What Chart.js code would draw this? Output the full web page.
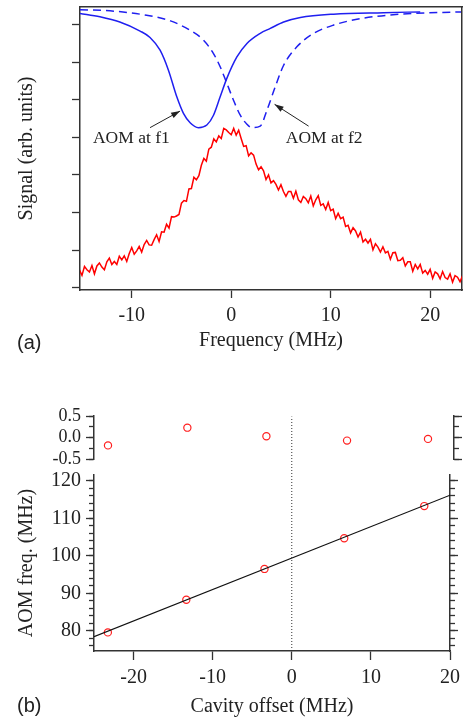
<!DOCTYPE html>
<html>
<head>
<meta charset="utf-8">
<script src="https://cdn.jsdelivr.net/npm/chart.js@4.4.1/dist/chart.umd.min.js"></script>
<style>
  body { margin: 0; background: #fff; }
  #wrap { position: relative; width: 466px; height: 719px; background: #fff; }
  canvas { position: absolute; left: 0; }
  .tag { position: absolute; font: 20px "Liberation Sans", Arial, sans-serif; line-height: 24px; color: #222; }
</style>
</head>
<body>
<div id="wrap">
  <canvas id="chartA" width="466" height="360" style="top:0"></canvas>
  <canvas id="chartRes" width="466" height="95" style="top:380px"></canvas>
  <canvas id="chartB" width="466" height="339" style="top:380px"></canvas>
  <div class="tag" style="left:17px;top:330px">(a)</div>
  <div class="tag" style="left:17px;top:693px">(b)</div>
</div>
<script>
// panel (a): cavity transmission signal (red) and the two AOM lines (blue)
const bandFreq = [-15.25,-15,-14.75,-14.5,-14.25,-14,-13.75,-13.5,-13.25,-13,-12.75,-12.5,-12.25,-12,-11.75,-11.5,-11.25,-11,-10.75,-10.5,-10.25,-10,
  -9.75,-9.5,-9.25,-9,-8.75,-8.5,-8.25,-8,-7.75,-7.5,-7.25,-7,-6.75,-6.5,-6.25,-6,-5.75,-5.5,-5.25,-5,-4.75,-4.5,-4.25,-4,-3.75,-3.5,-3.25,-3,
  -2.75,-2.5,-2.25,-2,-1.75,-1.5,-1.25,-1,-0.75,-0.5,-0.25,0,0.25,0.5,0.75,1,1.25,1.5,1.75,2,2.25,2.5,2.75,3,3.25,3.5,3.75,4,4.25,4.5,4.75,5,
  5.25,5.5,5.75,6,6.25,6.5,6.75,7,7.25,7.5,7.75,8,8.25,8.5,8.75,9,9.25,9.5,9.75,10,10.25,10.5,10.75,11,11.25,11.5,11.75,12,12.25,12.5,12.75,13,
  13.25,13.5,13.75,14,14.25,14.5,14.75,15,15.25,15.5,15.75,16,16.25,16.5,16.75,17,17.25,17.5,17.75,18,18.25,18.5,18.75,19,19.25,19.5,19.75,20,
  20.25,20.5,20.75,21,21.25,21.5,21.75,22,22.25,22.5,22.75,23,23.25]
const bandSignal = [0.47,0.33,0.57,0.48,0.42,0.59,0.37,0.58,0.66,0.55,0.48,0.69,0.79,0.62,0.70,0.62,0.84,0.74,0.85,0.70,0.91,1.07,
  0.89,0.98,1.10,0.95,1.15,1.26,1.14,1.13,1.28,1.41,1.23,1.49,1.48,1.69,1.59,1.89,1.88,1.91,1.95,2.25,2.32,2.30,2.63,2.64,2.94,2.87,2.98,3.26,
  3.44,3.37,3.69,3.74,3.96,3.88,4.04,3.97,4.24,4.20,4.13,4.07,4.24,4.06,4.19,3.97,3.76,3.78,3.51,3.59,3.53,3.29,3.14,3.22,3.11,2.88,3.00,2.79,2.85,2.75,2.60,2.74,
  2.56,2.43,2.56,2.56,2.38,2.57,2.34,2.27,2.43,2.37,2.26,2.44,2.18,2.34,2.45,2.19,2.23,2.08,2.27,2.05,2.09,1.84,1.98,1.84,1.88,1.63,1.66,1.46,1.60,1.51,1.35,1.48,
  1.22,1.29,1.19,1.29,1.01,1.17,1.08,0.95,1.09,0.93,0.97,0.76,0.93,0.94,0.72,0.73,0.80,0.58,0.69,0.69,0.44,0.62,0.50,0.62,0.39,0.46,0.36,0.49,
  0.25,0.42,0.37,0.24,0.43,0.27,0.23,0.37,0.15,0.32,0.28,0.16,0.32]

const f1Freq = [-15.2,-13.2,-11.2,-9.16,-8.16,-7.15,-6.31,-5.47,-4.8,-4.13,-3.29,-2.45,-1.78,-1.11,-0.44,0.57,1.58,2.92,3.93,5.27,6.95,10.3,15.3,19.0]
const f1Signal = [7.30,7.21,7.07,6.83,6.66,6.32,5.79,5.08,4.64,4.39,4.26,4.33,4.59,5.08,5.57,6.14,6.50,6.77,6.90,7.07,7.19,7.28,7.32,7.34]
const f2Freq = [-15.2,-11.8,-8.5,-6.1,-4.13,-2.79,-1.78,-1.11,-0.44,0.23,0.91,1.58,2.08,2.92,3.6,4.43,5.27,6.6,8.3,10.3,13.0,17.0,23.1]
const f2Signal = [7.40,7.36,7.25,7.10,6.85,6.59,6.23,5.88,5.44,4.99,4.59,4.35,4.26,4.30,4.73,5.35,5.92,6.41,6.77,6.99,7.16,7.28,7.34]

const freqTicks = [-10, 0, 10, 20]
const signalTicks = [0, 1, 2, 3, 4, 5, 6, 7]

// panel (b): AOM frequency against cavity offset, with linear fit and residuals
const cavityOffset = [-23.25, -13.33, -3.45, 6.63, 16.75]
const aomFreq = [79.57, 88.29, 96.52, 104.7, 113.3]
const fitResidual = [-0.18, 0.23, 0.03, -0.07, -0.03]
const fitOffset = [-25, 20]
const fitFreq = [78.4, 116.2]
const offsetTicks = [-20, -10, 0, 10, 20]
const aomTicks = [80, 90, 100, 110, 120]
const residualTicks = [-0.5, 0, 0.5]

const notes = [
  {text: 'AOM at f1', at: [-10.04, 3.85], tail: [-8.16, 4.26], head: [-5.14, 4.70]},
  {text: 'AOM at f2', at: [9.35, 3.85], tail: [7.78, 4.30], head: [4.36, 4.88]}
]

Chart.defaults.font.family = '"Liberation Serif", "Times New Roman", serif'
Chart.defaults.font.size = 20
Chart.defaults.color = '#222'
Chart.defaults.animation = false
Chart.defaults.plugins.legend.display = false
Chart.defaults.plugins.tooltip.enabled = false

const AXIS = '#333'
const pts = (xs, ys) => xs.map((x, i) => ({x: x, y: ys[i]}))
const setTicks = (list) => (scale) => { scale.ticks = list.map((v) => ({value: v})) }
const grid = (len) => ({drawOnChartArea: false, drawTicks: true, tickLength: len, tickColor: AXIS, tickWidth: 1.3})
const border = {color: AXIS, width: 1.5}

const arrowNotes = {
  id: 'arrowNotes',
  afterDatasetsDraw(chart) {
    const {ctx, scales: {x, y}} = chart
    ctx.save()
    ctx.strokeStyle = '#222'
    ctx.fillStyle = '#222'
    ctx.lineWidth = 1
    notes.forEach((n) => {
      const tx = x.getPixelForValue(n.tail[0]), ty = y.getPixelForValue(n.tail[1])
      const hx = x.getPixelForValue(n.head[0]), hy = y.getPixelForValue(n.head[1])
      ctx.beginPath()
      ctx.moveTo(tx, ty)
      ctx.lineTo(hx, hy)
      ctx.stroke()
      const a = Math.atan2(hy - ty, hx - tx)
      ctx.beginPath()
      ctx.moveTo(hx, hy)
      ctx.lineTo(hx - 9 * Math.cos(a) + 3 * Math.sin(a), hy - 9 * Math.sin(a) - 3 * Math.cos(a))
      ctx.lineTo(hx - 9 * Math.cos(a) - 3 * Math.sin(a), hy - 9 * Math.sin(a) + 3 * Math.cos(a))
      ctx.closePath()
      ctx.fill()
      ctx.font = '17.5px "Liberation Serif", serif'
      ctx.textAlign = 'center'
      ctx.textBaseline = 'alphabetic'
      ctx.fillText(n.text, x.getPixelForValue(n.at[0]), y.getPixelForValue(n.at[1]))
    })
    ctx.restore()
  }
}

new Chart(document.getElementById('chartA'), {
  type: 'line',
  data: {
    datasets: [
      {data: pts(bandFreq, bandSignal), xAxisID: 'x', yAxisID: 'y', borderColor: '#ff0000', borderWidth: 1.5, pointRadius: 0},
      {data: pts(f1Freq, f1Signal), xAxisID: 'x', yAxisID: 'y', borderColor: '#1f1ff0', borderWidth: 1.5, pointRadius: 0, cubicInterpolationMode: 'monotone'},
      {data: pts(f2Freq, f2Signal), xAxisID: 'x', yAxisID: 'y', borderColor: '#1f1ff0', borderWidth: 1.5, pointRadius: 0, cubicInterpolationMode: 'monotone', borderDash: [8, 5]}
    ]
  },
  options: {
    responsive: false,
    devicePixelRatio: 1,
    layout: {padding: 0},
    scales: {
      x: {
        type: 'linear', position: 'bottom', min: -15.2, max: 23.2,
        afterBuildTicks: setTicks(freqTicks),
        ticks: {padding: 6, autoSkip: false, callback: (v) => String(v)},
        grid: grid(8), border: border,
        title: {display: true, text: 'Frequency (MHz)', padding: {top: 0, bottom: 7}},
        afterFit: (s) => { s.height = 70 }
      },
      xTop: {
        type: 'linear', position: 'top',
        ticks: {display: false}, grid: {display: false}, border: border,
        afterFit: (s) => { s.height = 7 }
      },
      y: {
        type: 'linear', position: 'left', min: -0.06, max: 7.47,
        afterBuildTicks: setTicks(signalTicks),
        ticks: {display: false, autoSkip: false},
        grid: grid(8), border: border,
        title: {display: true, text: 'Signal (arb. units)', padding: {top: 15, bottom: 0}},
        afterFit: (s) => { s.width = 80 }
      },
      yR: {
        type: 'linear', position: 'right',
        ticks: {display: false}, grid: {display: false}, border: border,
        afterFit: (s) => { s.width = 4 }
      }
    }
  },
  plugins: [arrowNotes]
})

// y axes for panel (b): labelled major ticks plus short minor ticks, mirrored on the right
function sideAxes(min, max, major, minorStep, fontSize, title) {
  return {
    y: {
      type: 'linear', position: 'left', weight: 1, min: min, max: max,
      afterBuildTicks: setTicks(major),
      ticks: {padding: 5, autoSkip: false, font: {size: fontSize}, callback: (v) => minorStep < 1 ? v.toFixed(1) : String(v)},
      grid: grid(8), border: border,
      title: title ? {display: true, text: title, padding: {top: 15, bottom: 0}} : {display: false},
      afterFit: (s) => { s.width = 94 }
    },
    yMinor: {
      type: 'linear', position: 'left', weight: 0, min: min, max: max,
      ticks: {display: false, autoSkip: false, stepSize: minorStep, includeBounds: false},
      grid: grid(5), border: {display: false},
      afterFit: (s) => { s.width = 0 }
    },
    yR: {
      type: 'linear', position: 'right', weight: 1, min: min, max: max,
      afterBuildTicks: setTicks(major),
      ticks: {display: false, autoSkip: false},
      grid: grid(8), border: border,
      afterFit: (s) => { s.width = 12 }
    },
    yRMinor: {
      type: 'linear', position: 'right', weight: 0, min: min, max: max,
      ticks: {display: false, autoSkip: false, stepSize: minorStep, includeBounds: false},
      grid: grid(5), border: {display: false},
      afterFit: (s) => { s.width = 0 }
    }
  }
}

const resScales = sideAxes(-0.5, 0.5, residualTicks, 0.25, 18, null)
resScales.x = {type: 'linear', display: false, min: -25, max: 20}
new Chart(document.getElementById('chartRes'), {
  type: 'scatter',
  data: {
    datasets: [
      {data: pts(cavityOffset, fitResidual), xAxisID: 'x', yAxisID: 'y', pointRadius: 3.6, pointBorderWidth: 1.2,
        borderColor: '#ff2020', backgroundColor: 'rgba(0,0,0,0)'}
    ]
  },
  options: {
    responsive: false,
    devicePixelRatio: 1,
    layout: {padding: {top: 36, bottom: 12, left: 0, right: 0}},
    scales: resScales
  }
})

const bScales = sideAxes(74.6, 121.6, aomTicks, 2, 20, 'AOM freq. (MHz)')
bScales.x = {
  type: 'linear', position: 'bottom', min: -25, max: 20,
  afterBuildTicks: setTicks(offsetTicks),
  ticks: {padding: 6, autoSkip: false, callback: (v) => String(v)},
  grid: grid(9), border: border,
  title: {display: true, text: 'Cavity offset (MHz)', padding: {top: 0, bottom: 0}},
  afterFit: (s) => { s.height = 68 }
}
new Chart(document.getElementById('chartB'), {
  type: 'line',
  data: {
    datasets: [
      {data: [{x: 0, y: 74.6}, {x: 0, y: 137.2}], xAxisID: 'x', yAxisID: 'y', borderColor: '#333', borderWidth: 1,
        borderDash: [1, 2], pointRadius: 0, clip: {left: 0, right: 0, top: false, bottom: 0}},
      {data: pts(fitOffset, fitFreq), xAxisID: 'x', yAxisID: 'y', borderColor: '#111', borderWidth: 1.2, pointRadius: 0},
      {data: pts(cavityOffset, aomFreq), xAxisID: 'x', yAxisID: 'y', showLine: false, pointRadius: 3.6, pointBorderWidth: 1.2,
        pointBorderColor: '#ff2020', pointBackgroundColor: 'rgba(0,0,0,0)', borderColor: '#ff2020'}
    ]
  },
  options: {
    responsive: false,
    devicePixelRatio: 1,
    layout: {padding: {top: 95, bottom: 0, left: 0, right: 0}},
    scales: bScales
  }
})
</script>
</body>
</html>
